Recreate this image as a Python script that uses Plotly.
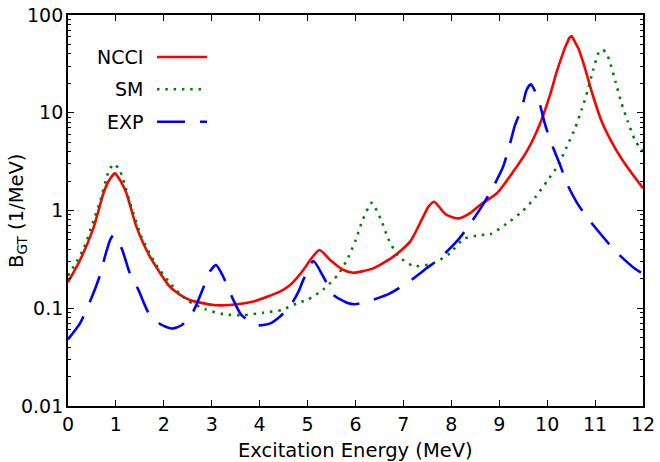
import plotly.graph_objects as go

# ---- data ----
ncci_x = [0.0, 0.25, 0.53, 0.74, 0.84, 0.98, 1.11, 1.22, 1.43, 1.71, 2.13, 2.34, 2.55, 3.03, 3.38,
          3.87, 4.42, 4.63, 4.77, 4.91, 5.08, 5.25, 5.47, 5.75, 5.95, 6.37, 6.79, 7.14, 7.38, 7.52,
          7.64, 7.80, 7.90, 8.15, 8.39, 8.60, 8.95, 9.29, 9.57, 9.78, 9.92, 10.06, 10.20, 10.34,
          10.41, 10.46, 10.51, 10.58, 10.65, 10.79, 10.93, 11.14, 11.42, 11.69, 12.0]
ncci_y = [0.185, 0.31, 0.66, 1.5, 1.97, 2.4, 1.95, 1.5, 0.68, 0.337, 0.165, 0.137, 0.121, 0.108, 0.108,
          0.117, 0.148, 0.172, 0.202, 0.246, 0.324, 0.394, 0.312, 0.246, 0.231, 0.256, 0.337, 0.48, 0.8, 1.09,
          1.23, 1.01, 0.9, 0.83, 0.94, 1.14, 1.5, 2.49, 4.0, 6.4, 9.5, 15.2, 26.3, 42,
          51, 58, 61, 53, 45.6, 28.5, 16.4, 8.1, 4.33, 2.7, 1.69]

sm_x = [0.0, 0.32, 0.53, 0.67, 0.84, 0.95, 1.07, 1.15, 1.33, 1.54, 1.82, 2.2, 2.51, 2.86, 3.24, 3.66,
        4.08, 4.46, 4.81, 5.01, 5.33, 5.64, 5.85, 6.01, 6.15, 6.34, 6.53, 6.68, 6.89, 7.22, 7.62,
        7.97, 8.25, 8.60, 8.81, 9.15, 9.47, 9.75, 9.99, 10.23, 10.41, 10.58, 10.72, 10.85, 10.96,
        11.09, 11.16, 11.24, 11.31, 11.43, 11.54, 11.68, 11.83, 11.94, 12.0]
sm_y = [0.215, 0.40, 0.78, 1.23, 2.44, 2.99, 2.64, 2.08, 1.05, 0.53, 0.288, 0.164, 0.119, 0.098, 0.087, 0.085,
        0.090, 0.096, 0.114, 0.123, 0.156, 0.222, 0.332, 0.507, 0.80, 1.2, 0.81, 0.519, 0.343, 0.27, 0.288,
        0.365, 0.51, 0.561, 0.57, 0.73, 0.97, 1.36, 1.97, 2.92, 4.5, 6.9, 10.8, 17.1, 27.4,
        42.8, 44, 40.5, 32.8, 20.5, 13, 8.2, 5.3, 4.33, 4.0]

exp_x = [0.0, 0.25, 0.46, 0.67, 0.77, 0.88, 0.95, 1.12, 1.29, 1.47, 1.68, 1.92, 2.16, 2.37, 2.61, 2.82,
         2.96, 3.09, 3.24, 3.42, 3.62, 3.97, 4.22, 4.42, 4.63, 4.81, 4.91, 5.12, 5.33, 5.54, 5.82,
         5.99, 6.30, 6.72, 7.07, 7.35, 7.48, 7.76, 8.15, 8.35, 8.63, 8.84, 9.08, 9.19, 9.33, 9.47,
         9.57, 9.66, 9.81, 9.95, 10.06, 10.27, 10.42, 10.65, 10.85, 11.19, 11.42, 11.82, 12.0]
exp_y = [0.048, 0.070, 0.117, 0.219, 0.337, 0.50, 0.561, 0.41, 0.228, 0.154, 0.090, 0.069, 0.062, 0.067, 0.092, 0.16,
         0.237, 0.277, 0.21, 0.131, 0.085, 0.067, 0.070, 0.082, 0.104, 0.148, 0.195, 0.304, 0.21, 0.137, 0.114,
         0.11, 0.119, 0.142, 0.18, 0.228, 0.256, 0.324, 0.507, 0.68, 1.09, 1.62, 2.8, 4.16, 7.5, 11.1,
         17.1, 19.5, 14.1, 7.8, 5.3, 2.92, 1.85, 1.14, 0.83, 0.52, 0.385, 0.256, 0.225]

series_names = ["NCCI", "SM", "EXP"]
series_colors = ["#ff0000", "#008000", "#0000ff"]
series_dash = ["solid", "2.5px,5.8px", "28px,15px"]

x_title = "Excitation Energy (MeV)"
y_title = "B<sub>GT</sub> (1/MeV)"

y_major = [0.01, 0.1, 1, 10, 100]
y_major_text = ["0.01", "0.1", "1", "10", "100"]
y_minor = [m * d for d in (0.01, 0.1, 1, 10) for m in range(2, 10)]

FONT = "DejaVu Sans"

fig = go.Figure()
for xs, ys, name, col, dash in zip([ncci_x, sm_x, exp_x], [ncci_y, sm_y, exp_y],
                                    series_names, series_colors, series_dash):
    fig.add_trace(go.Scatter(x=xs, y=ys, mode="lines", name=name,
                             line=dict(color=col, width=2.6, dash=dash, shape="spline", smoothing=0.6),
                             showlegend=False, hoverinfo="skip"))

# manual legend (text to the left of the sample line)
leg_y = [0.8926, 0.81, 0.727]
for name, col, dash, ly in zip(series_names, series_colors, series_dash, leg_y):
    fig.add_annotation(x=0.1339, y=ly, xref="paper", yref="paper", text=name, showarrow=False,
                       xanchor="right", yanchor="middle", font=dict(family=FONT, size=19, color="black"))
    fig.add_shape(type="line", xref="paper", yref="paper", x0=0.1548, x1=0.2417, y0=ly, y1=ly,
                  line=dict(color=col, width=2.6, dash=dash))

fig.add_annotation(x=0.5, y=-0.114, xref="paper", yref="paper", text=x_title, showarrow=False,
                   xanchor="center", yanchor="middle", font=dict(family=FONT, size=19.5, color="black"))
fig.add_annotation(x=-0.088, y=0.5, xref="paper", yref="paper", text=y_title, showarrow=False,
                   textangle=-90, xanchor="center", yanchor="middle",
                   font=dict(family=FONT, size=19.5, color="black"))

fig.update_layout(
    width=660, height=462,
    margin=dict(l=68, r=17, t=15, b=56),
    paper_bgcolor="white", plot_bgcolor="white",
    font=dict(family=FONT, size=19, color="black"),
    xaxis=dict(range=[0, 12], dtick=1, tick0=0, ticks="inside", ticklen=6, tickwidth=1.2,
               tickcolor="black", showline=True, linecolor="black", linewidth=1.8, mirror="ticks",
               showgrid=False, zeroline=False, automargin=False,
               tickfont=dict(family=FONT, size=19, color="black")),
    yaxis=dict(type="log", range=[-2, 2], tickmode="array", tickvals=y_major, ticktext=y_major_text,
               ticks="inside", ticklen=6, tickwidth=1.2, ticklabelstandoff=-1,
               tickcolor="black", showline=True, linecolor="black", linewidth=1.8, mirror="ticks",
               showgrid=False, zeroline=False, automargin=False,
               tickfont=dict(family=FONT, size=19, color="black"),
               minor=dict(tickmode="array", tickvals=y_minor, ticks="inside", ticklen=3.5,
                          tickwidth=1, tickcolor="black", showgrid=False)),
)

fig.write_html("out.html", config={"displayModeBar": False},
               post_script="document.body.style.margin='0';document.body.style.overflow='hidden';")
